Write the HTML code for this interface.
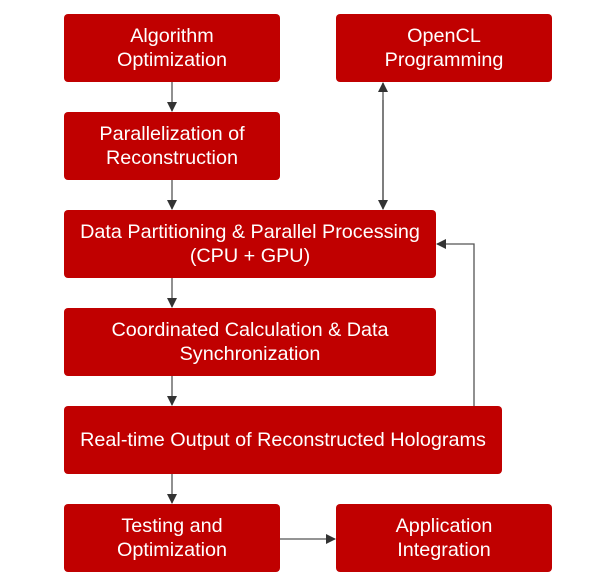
<!DOCTYPE html>
<html><head><style>
body{margin:0;width:601px;height:584px;background:#fff;position:relative;overflow:hidden;font-family:"Liberation Sans",Arial,sans-serif}
.b{position:absolute;background:#c00000;border-radius:4px;color:#fff;font-size:19.8px;line-height:24px;display:flex;align-items:center;justify-content:center;text-align:center}
svg{position:absolute;left:0;top:0}
</style></head><body>
<div class="b" style="left:64px;top:14px;width:216px;height:68px">Algorithm<br>Optimization</div>
<div class="b" style="left:336px;top:14px;width:216px;height:68px">OpenCL<br>Programming</div>
<div class="b" style="left:64px;top:112px;width:216px;height:68px">Parallelization of<br>Reconstruction</div>
<div class="b" style="left:64px;top:210px;width:372px;height:68px">Data Partitioning &amp; Parallel Processing<br>(CPU + GPU)</div>
<div class="b" style="left:64px;top:308px;width:372px;height:68px">Coordinated Calculation &amp; Data<br>Synchronization</div>
<div class="b" style="left:64px;top:406px;width:438px;height:68px">Real-time Output of Reconstructed Holograms</div>
<div class="b" style="left:64px;top:504px;width:216px;height:68px">Testing and<br>Optimization</div>
<div class="b" style="left:336px;top:504px;width:216px;height:68px">Application<br>Integration</div>
<svg width="601" height="584">
<defs><marker id="a" markerWidth="10" markerHeight="10" refX="9" refY="5" orient="auto" markerUnits="userSpaceOnUse"><path d="M0,0L10,5L0,10z" fill="#333"/></marker></defs>
<g stroke="#555" stroke-width="1.3" fill="none">
<line x1="172" y1="82" x2="172" y2="111" marker-end="url(#a)"/>
<line x1="172" y1="180" x2="172" y2="209" marker-end="url(#a)"/>
<line x1="172" y1="278" x2="172" y2="307" marker-end="url(#a)"/>
<line x1="172" y1="376" x2="172" y2="405" marker-end="url(#a)"/>
<line x1="172" y1="474" x2="172" y2="503" marker-end="url(#a)"/>
<line x1="280" y1="539" x2="335" y2="539" marker-end="url(#a)"/>
<line x1="383" y1="200" x2="383" y2="83" marker-end="url(#a)"/>
<line x1="383" y1="100" x2="383" y2="209" marker-end="url(#a)"/>
<polyline points="474,406 474,244 437,244" marker-end="url(#a)"/>
</g></svg>
</body></html>
